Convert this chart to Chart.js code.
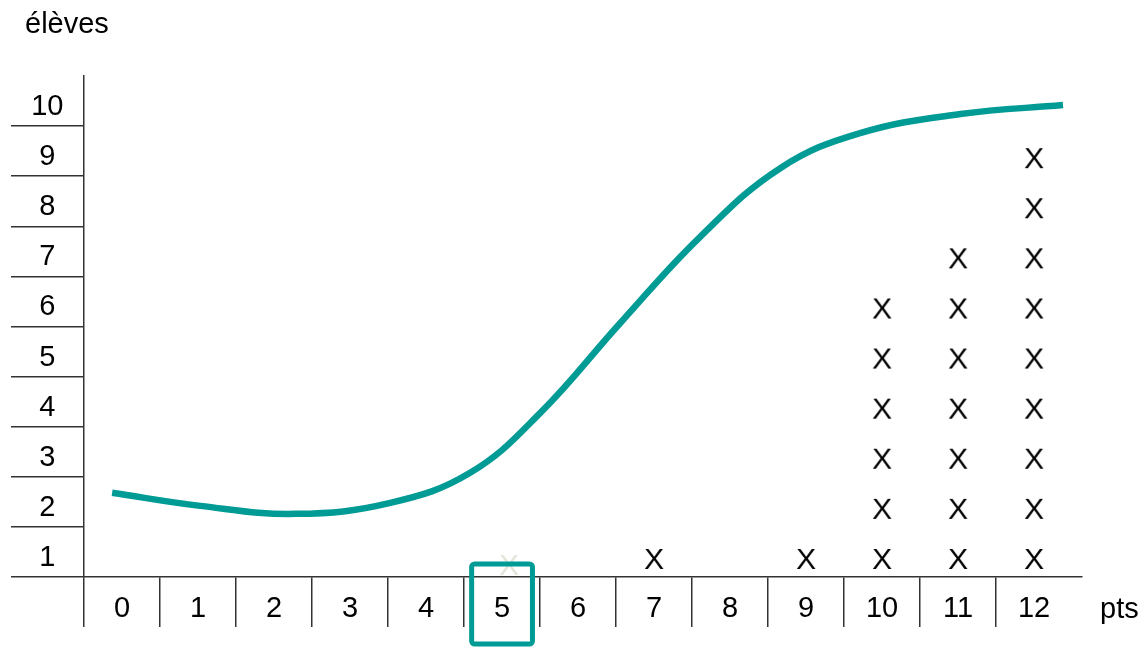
<!DOCTYPE html>
<html lang="fr">
<head>
<meta charset="utf-8">
<title>élèves / pts</title>
<script src="https://cdn.jsdelivr.net/npm/chart.js@4/dist/chart.umd.min.js"></script>
<style>
  html, body { margin: 0; padding: 0; background: #fff; }
  #wrap { width: 1142px; height: 647px; position: relative; }
</style>
</head>
<body>
<div id="wrap"><canvas id="chart"></canvas></div>
<script>
const pointLabels = [0, 1, 2, 3, 4, 5, 6, 7, 8, 9, 10, 11, 12]
const studentLabels = [1, 2, 3, 4, 5, 6, 7, 8, 9, 10]
// number of X stacked above each score
const marksPerPoint = [0, 0, 0, 0, 0, 0, 0, 1, 0, 1, 6, 7, 9]
// the pale x hidden behind the frame
const fadedPoints = [5]
const fadedCounts = [1]
// curve
const curveX = [-0.13, 1.03, 2.28, 3.53, 4.58, 5.5, 6.55, 7.6, 8.66, 9.71, 11.03, 12.38]
const curveY = [2.18, 1.92, 1.76, 1.98, 2.58, 3.77, 5.56, 7.28, 8.66, 9.36, 9.74, 9.92]
const highlightedPoint = 5

const TEAL = '#009b95'
const INK = '#333333'
const FONT = "'Liberation Sans', Arial, sans-serif"

Chart.defaults.font.family = FONT
Chart.defaults.font.size = 29
Chart.defaults.color = '#000'

const toMarks = (xs, counts) =>
  xs.flatMap((x, i) => Array.from({ length: counts[i] }, (_, k) => ({ x, y: k + 1 })))

// a text glyph used as point style
const glyph = (text, color, dx, dy) => {
  const c = document.createElement('canvas')
  c.width = 44
  c.height = 70
  const g = c.getContext('2d')
  g.font = '30px ' + FONT
  g.fillStyle = color
  g.textAlign = 'center'
  g.textBaseline = 'middle'
  g.fillText(text, 22 + dx, 35 + dy)
  return c
}

const onlyRealTicks = (ctx) => (ctx.tick ? INK : 'rgba(0,0,0,0)')

const decor = {
  id: 'decor',
  afterDraw(chart) {
    const { ctx, scales: { x, y }, chartArea } = chart
    ctx.save()
    ctx.font = '29px ' + FONT
    ctx.fillStyle = '#000'
    ctx.textBaseline = 'alphabetic'
    ctx.textAlign = 'left'
    ctx.fillText('élèves', y.left + 14, chartArea.top - 43)
    ctx.fillText('pts', chartArea.right + 18, x.bottom - 9)

    // frame round the highlighted score
    const unit = x.getPixelForValue(1) - x.getPixelForValue(0)
    const cx = x.getPixelForValue(highlightedPoint)
    const axisY = y.getPixelForValue(0.5)
    ctx.strokeStyle = TEAL
    ctx.lineWidth = 5
    ctx.beginPath()
    ctx.roundRect(cx - 0.4 * unit, axisY - 13, 0.8 * unit, x.bottom + 17 - (axisY - 13), 3)
    ctx.stroke()
    ctx.restore()
  }
}

new Chart(document.getElementById('chart'), {
  type: 'scatter',
  plugins: [decor],
  data: {
    datasets: [
      {
        type: 'line',
        data: curveX.map((v, i) => ({ x: v, y: curveY[i] })),
        borderColor: TEAL,
        borderWidth: 6.5,
        borderCapStyle: 'butt',
        tension: 0.4,
        pointRadius: 0,
        fill: false
      },
      {
        data: toMarks(fadedPoints, fadedCounts),
        pointStyle: glyph('X', '#e4e4da', 7, 15),
        pointRadius: 10
      },
      {
        data: toMarks(pointLabels, marksPerPoint),
        pointStyle: glyph('X', '#000', 0, 9),
        pointRadius: 10
      }
    ]
  },
  options: {
    responsive: true,
    maintainAspectRatio: false,
    animation: false,
    events: [],
    layout: { padding: { left: 11, right: 60, top: 76, bottom: 20 } },
    plugins: {
      legend: { display: false },
      tooltip: { enabled: false }
    },
    scales: {
      x: {
        type: 'linear',
        min: -0.5,
        max: 12.63,
        afterBuildTicks: (scale) => { scale.ticks = pointLabels.map((v) => ({ value: v })) },
        afterFit: (scale) => { scale.height = 50 },
        border: { display: true, color: INK, width: 1.5 },
        grid: {
          offset: true,
          drawOnChartArea: false,
          drawTicks: true,
          tickLength: 50,
          color: onlyRealTicks,
          tickColor: onlyRealTicks,
          lineWidth: 1.5
        },
        ticks: {
          autoSkip: false,
          maxRotation: 0,
          padding: -35,
          color: '#000'
        }
      },
      y: {
        type: 'linear',
        min: 0.5,
        max: 10.5,
        afterBuildTicks: (scale) => { scale.ticks = studentLabels.map((v) => ({ value: v })) },
        afterFit: (scale) => { scale.width = 73 },
        border: { display: true, color: INK, width: 1.5 },
        grid: {
          offset: true,
          drawOnChartArea: false,
          drawTicks: true,
          tickLength: 73,
          color: onlyRealTicks,
          tickColor: onlyRealTicks,
          lineWidth: 1.5
        },
        ticks: {
          crossAlign: 'center',
          padding: -52.5,
          labelOffset: 6,
          color: '#000'
        }
      }
    }
  }
})
</script>
</body>
</html>
